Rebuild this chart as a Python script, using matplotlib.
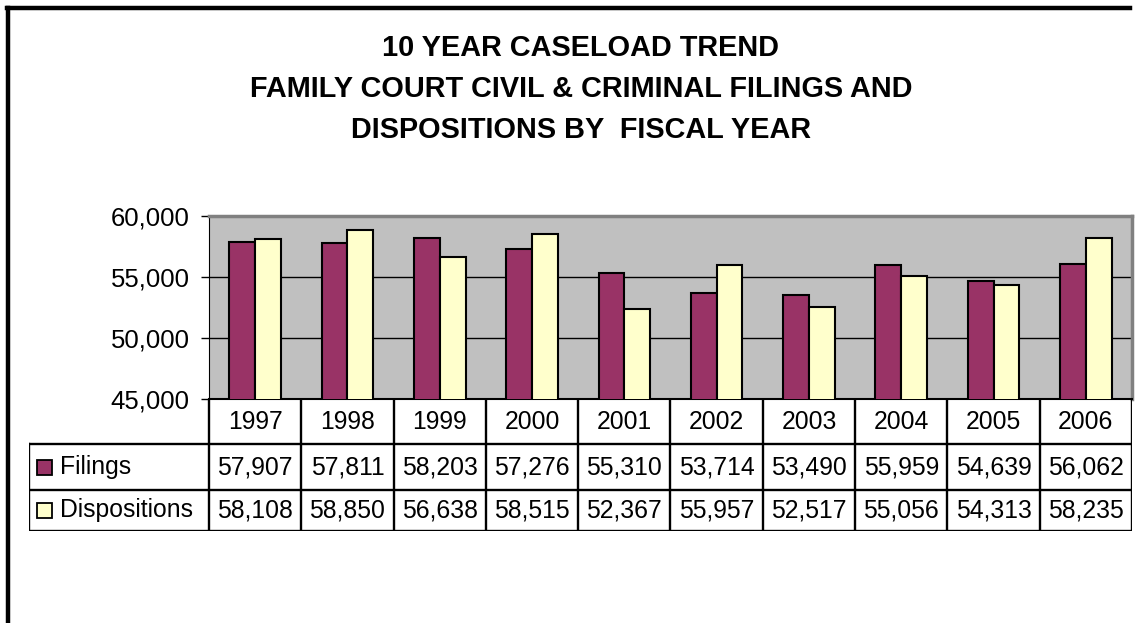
import matplotlib.pyplot as plt
from matplotlib.lines import Line2D
from matplotlib.patches import Rectangle

years = ["1997", "1998", "1999", "2000", "2001", "2002", "2003", "2004", "2005", "2006"]
filings = [57907, 57811, 58203, 57276, 55310, 53714, 53490, 55959, 54639, 56062]
dispositions = [58108, 58850, 56638, 58515, 52367, 55957, 52517, 55056, 54313, 58235]
series_names = ["Filings", "Dispositions"]

title = ("10 YEAR CASELOAD TREND\n"
         "FAMILY COURT CIVIL & CRIMINAL FILINGS AND\n"
         "DISPOSITIONS BY  FISCAL YEAR")

plum = "#993366"
cream = "#FFFFCC"

plt.rcParams["font.family"] = ["Liberation Sans", "DejaVu Sans"]

W, H = 1138, 623
fig = plt.figure(figsize=(W / 100, H / 100), dpi=100)


def px_box(x0, y0, x1, y1):
    # pixel box (top-left origin) -> figure fraction rect
    return [x0 / W, 1 - y1 / H, (x1 - x0) / W, (y1 - y0) / H]


# outer frame
fig.add_artist(Line2D([8 / W, 8 / W], [0, 1 - 8 / H], color="black", lw=3.2,
                      transform=fig.transFigure))
fig.add_artist(Line2D([6.5 / W, 1130 / W], [1 - 8 / H, 1 - 8 / H], color="black", lw=3.2,
                      transform=fig.transFigure))

fig.text(581 / W, 1 - 89 / H, title, ha="center", va="center", fontsize=20.8,
         fontweight="bold", linespacing=1.6)

# bar chart
left, right, top, bottom = 209, 1132, 216, 399
ax = fig.add_axes(px_box(left, top, right, bottom))
ax.set_facecolor("#C0C0C0")
n = len(years)
xs = list(range(n))
bw = 0.28
ax.bar([x - bw / 2 for x in xs], filings, width=bw, color=plum, edgecolor="black", lw=1.5, zorder=3)
ax.bar([x + bw / 2 for x in xs], dispositions, width=bw, color=cream, edgecolor="black", lw=1.5, zorder=3)
ax.set_xlim(-0.5, n - 0.5)
ax.set_ylim(45000, 60000)
ax.set_yticks([45000, 50000, 55000, 60000])
ax.set_yticklabels([f"{v:,}" for v in [45000, 50000, 55000, 60000]], fontsize=18.5)
ax.set_xticks([])
ax.tick_params(axis="y", length=6, width=1, pad=8, direction="out")
for g in [50000, 55000]:
    ax.axhline(g, color="black", lw=1, zorder=1)
ax.spines["left"].set_color("black")
ax.spines["bottom"].set_color("black")
ax.spines["bottom"].set_linewidth(1.5)
for s in ["top", "right"]:
    ax.spines[s].set_color("#808080")
    ax.spines[s].set_linewidth(2.5)

# data table beneath the bars
tab_left, tab_bottom = 29, 531
cat_w = (right - left) / n
extra = (left - tab_left) / cat_w
tx = fig.add_axes(px_box(tab_left, bottom, right, tab_bottom))
tx.set_xlim(-0.5 - extra, n - 0.5)
tx.set_ylim(132, 0)
tx.axis("off")
row_lines = [0, 45, 91, 132]
lc = dict(color="black", lw=1.7, solid_capstyle="projecting")
for k in range(n + 1):
    tx.plot([k - 0.5, k - 0.5], [0, 132], **lc)
tx.plot([-0.5 - extra, -0.5 - extra], [45, 132], **lc)
for yy in row_lines[1:]:
    tx.plot([-0.5 - extra, n - 0.5], [yy, yy], **lc)

for k, yr in enumerate(years):
    tx.text(k, 23, yr, ha="center", va="center", fontsize=17.8)

rows = [filings, dispositions]
colors = [plum, cream]
for r, (name, vals, c) in enumerate(zip(series_names, rows, colors)):
    yc = (row_lines[r + 1] + row_lines[r + 2]) / 2
    for k, v in enumerate(vals):
        tx.text(k, yc, f"{v:,}", ha="center", va="center", fontsize=17.8)
    kx = -0.5 - extra + 8 / cat_w
    tx.add_patch(Rectangle((kx, yc - 7.5), 15 / cat_w, 15, facecolor=c,
                           edgecolor="black", lw=1.3, clip_on=False))
    tx.text(kx + 23 / cat_w, yc, name, ha="left", va="center", fontsize=17.8)

fig.savefig("out.png", dpi=100)
